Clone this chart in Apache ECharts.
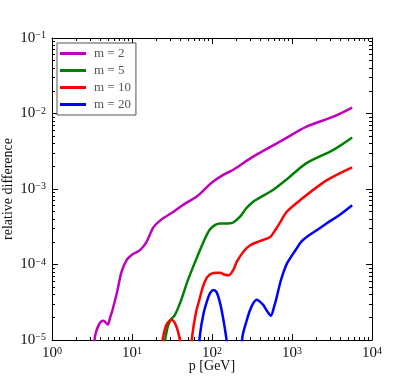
<!DOCTYPE html>
<html>
<head>
<meta charset="utf-8">
<script src="https://cdn.jsdelivr.net/npm/echarts@6/dist/echarts.min.js"></script>
<style>
  html, body { margin: 0; padding: 0; background: #fff; }
  #chart { width: 413px; height: 379px; }
</style>
</head>
<body>
<div id="chart"></div>
<script>
// legend names
const seriesNames = ['m = 2', 'm = 5', 'm = 10', 'm = 20'];

// decade ticks
const xMajor = [1, 10, 100, 1000, 10000];
const yMajor = [1e-5, 1e-4, 1e-3, 1e-2, 1e-1];

// curves, [p, relative difference]
const m2 = [[3.3, 8e-6], [3.5, 1.2e-5], [3.8, 1.55e-5], [4.1, 1.75e-5], [4.4, 1.8e-5], [4.7, 1.7e-5],
  [5.0, 1.6e-5], [5.3, 1.95e-5], [5.7, 2.5e-5], [6.5, 4.3e-5], [7.4, 8.0e-5], [8.6, 1.15e-4],
  [10, 1.35e-4], [12.6, 1.55e-4], [15.2, 2.0e-4], [18.5, 3.1e-4], [23, 3.9e-4], [33, 5.0e-4],
  [45, 6.3e-4], [65, 8.0e-4], [100, 1.22e-3], [140, 1.55e-3], [185, 1.8e-3], [330, 2.7e-3],
  [780, 4.5e-3], [1520, 6.7e-3], [3300, 9.1e-3], [5650, 1.2e-2]];

const m5 = [[25, 8e-6], [28, 1.5e-5], [31, 1.9e-5], [34, 2.1e-5], [40, 3.1e-5], [50, 6.2e-5],
  [64, 1.2e-4], [80, 2.1e-4], [94, 2.9e-4], [110, 3.35e-4], [126, 3.5e-4], [160, 3.5e-4],
  [184, 3.6e-4], [224, 4.3e-4], [270, 5.6e-4], [328, 6.8e-4], [450, 8.3e-4], [585, 9.8e-4],
  [900, 1.4e-3], [1520, 2.2e-3], [3300, 3.3e-3], [5650, 4.8e-3]];

const m10a = [[22.5, 6e-6], [24.5, 1.1e-5], [27, 1.6e-5], [31, 1.85e-5], [35, 1.6e-5], [39, 1.1e-5], [43, 6e-6]];
const m10b = [[54, 6e-6], [57, 1.2e-5], [63, 2.3e-5], [70, 3.5e-5], [78, 5.3e-5], [88, 6.9e-5],
  [104, 7.7e-5], [125, 7.8e-5], [145, 7.3e-5], [162, 7.2e-5], [185, 8.5e-5], [205, 1.1e-4],
  [250, 1.5e-4], [300, 1.8e-4], [400, 2.05e-4], [530, 2.3e-4], [610, 2.8e-4], [720, 3.7e-4],
  [860, 5.0e-4], [1260, 7.1e-4], [2700, 1.3e-3], [5650, 1.94e-3]];

const m20a = [[66, 5e-6], [71, 1.2e-5], [78, 2.2e-5], [86, 3.2e-5], [95, 4.2e-5], [104, 4.6e-5],
  [114, 4.3e-5], [126, 3.1e-5], [137, 2.0e-5], [145, 1.4e-5], [152, 1e-5], [158, 6e-6]];
const m20b = [[230, 5e-6], [240, 1.1e-5], [271, 1.8e-5], [299, 2.5e-5], [330, 3.1e-5], [363, 3.4e-5],
  [400, 3.2e-5], [438, 2.9e-5], [490, 2.4e-5], [543, 2.1e-5], [600, 2.8e-5], [644, 3.7e-5],
  [708, 5.6e-5], [780, 7.8e-5], [860, 1.02e-4], [990, 1.3e-4], [1150, 1.65e-4], [1300, 2.0e-4],
  [1600, 2.4e-4], [2040, 2.85e-4], [2700, 3.5e-4], [4000, 4.6e-4], [5650, 6.1e-4]];

// minor ticks 2..9 in each decade
const minorOf = majors => {
  const out = [];
  for (let i = 0; i < majors.length - 1; i++) {
    for (let k = 2; k <= 9; k++) out.push(majors[i] * k);
  }
  return out;
};
const xMinor = minorOf(xMajor);
const yMinor = minorOf(yMajor);

const font = 'Liberation Serif';

const powLabel = v => {
  const e = Math.round(Math.log10(v));
  return '{b|10}{e|' + (e < 0 ? '\u2212' + (-e) : e) + '}';
};
const labelRich = {
  b: { fontFamily: font, fontSize: 15, color: '#111' },
  e: { fontFamily: font, fontSize: 10, color: '#111', verticalAlign: 'top' }
};

// one axis: main = ticks + line (+ labels), minor = short ticks only
const makeAxis = (pos, min, max, ticks, len, withLabel, extra) => Object.assign({
  type: 'log',
  logBase: 10,
  position: pos,
  min: min,
  max: max,
  splitLine: { show: false },
  axisLine: { show: len > 4, lineStyle: { color: '#000', width: 1 } },
  axisTick: { show: true, inside: true, length: len, customValues: ticks, lineStyle: { color: '#000', width: 1 } },
  axisLabel: withLabel
    ? { show: true, customValues: ticks, formatter: powLabel, rich: labelRich, margin: 6 }
    : { show: false },
  minorTick: { show: false }
}, extra || {});

const chart = echarts.init(document.getElementById('chart'));

const lineSeries = (name, data, color) => ({
  name: name,
  type: 'line',
  data: data,
  xAxisIndex: 0,
  yAxisIndex: 0,
  symbol: 'none',
  smooth: 0.3,
  clip: true,
  lineStyle: { color: color, width: 2.5 },
  itemStyle: { color: color }
});

chart.setOption({
  animation: false,
  grid: { left: 52, right: 41, top: 38, bottom: 39, outerBoundsMode: 'none', containLabel: false },
  legend: {
    data: seriesNames,
    orient: 'vertical',
    left: 57,
    top: 43,
    icon: 'rect',
    itemWidth: 26,
    itemHeight: 3,
    itemGap: 4,
    padding: [4, 5, 4, 3],
    backgroundColor: '#fff',
    borderColor: '#555',
    borderWidth: 1,
    borderRadius: 0,
    textStyle: { fontFamily: font, fontSize: 13, color: '#555', padding: [0, 0, 0, 3] }
  },
  xAxis: [
    makeAxis('bottom', 1, 10000, xMajor, 6, true, {
      name: 'p [GeV]', nameLocation: 'middle', nameGap: 19, nameMoveOverlap: false,
      nameTextStyle: { fontFamily: font, fontSize: 14, color: '#111' }
    }),
    makeAxis('bottom', 1, 10000, xMinor, 3, false),
    makeAxis('top', 1, 10000, xMajor, 6, false),
    makeAxis('top', 1, 10000, xMinor, 3, false)
  ],
  yAxis: [
    makeAxis('left', 1e-5, 1e-1, yMajor, 6, true, {
      name: 'relative difference', nameLocation: 'middle', nameGap: 37, nameRotate: 90, nameMoveOverlap: false,
      nameTextStyle: { fontFamily: font, fontSize: 14, color: '#111' }
    }),
    makeAxis('left', 1e-5, 1e-1, yMinor, 3, false),
    makeAxis('right', 1e-5, 1e-1, yMajor, 6, false),
    makeAxis('right', 1e-5, 1e-1, yMinor, 3, false)
  ],
  series: [
    lineSeries(seriesNames[0], m2, '#bf00bf'),
    lineSeries(seriesNames[1], m5, '#008000'),
    lineSeries(seriesNames[2], m10a, '#ff0000'),
    lineSeries(seriesNames[2], m10b, '#ff0000'),
    lineSeries(seriesNames[3], m20a, '#0000ff'),
    lineSeries(seriesNames[3], m20b, '#0000ff')
  ]
});
</script>
</body>
</html>
